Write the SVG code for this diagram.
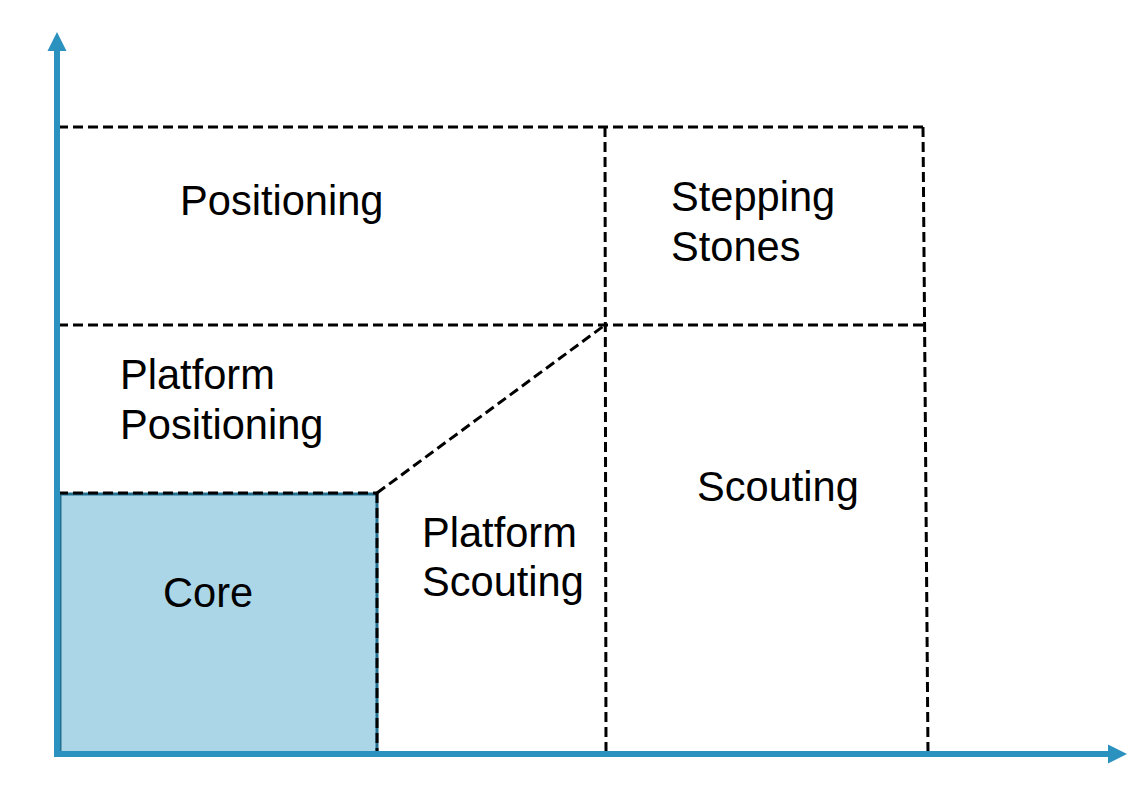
<svg xmlns="http://www.w3.org/2000/svg" width="1138" height="796" viewBox="0 0 1138 796">
<style>
.lbl{font-family:"Liberation Sans",Arial,sans-serif;font-size:41.6px;fill:#000}
.dash{stroke:#000;stroke-width:3;stroke-dasharray:10 5;fill:none}
.axis{stroke:#2b91bf;stroke-width:6;fill:none}
</style>
<rect width="1138" height="796" fill="#fff"/>
<g id="core">
<rect x="60" y="494" width="317" height="260" fill="#abd6e8" stroke="#226f90" stroke-width="3"/>
<text class="lbl" x="163" y="607">Core</text>
</g>
<g id="connectors">
<line class="dash" x1="58" y1="127" x2="923" y2="127"/>
<line class="dash" x1="58" y1="325" x2="925" y2="325"/>
<line class="dash" x1="58" y1="493" x2="377" y2="493"/>
<line class="dash" x1="377" y1="493" x2="377" y2="754"/>
<line class="dash" x1="377" y1="493" x2="605" y2="325"/>
<line class="dash" x1="605" y1="127" x2="606" y2="754"/>
<line class="dash" x1="923" y1="127" x2="928" y2="754"/>
</g>
<g id="axes">
<line class="axis" x1="57" y1="50" x2="57" y2="757"/>
<polygon points="57,32 47.5,51 66.5,51" fill="#2b91bf"/>
<line class="axis" x1="54" y1="754" x2="1110" y2="754"/>
<polygon points="1127,754 1108,744.5 1108,763.5" fill="#2b91bf"/>
</g>
<g id="positioning"><text class="lbl" x="180" y="215">Positioning</text></g>
<g id="stepping-stones"><text class="lbl" x="671" y="211">Stepping</text><text class="lbl" x="671" y="261">Stones</text></g>
<g id="platform-positioning"><text class="lbl" x="120" y="389">Platform</text><text class="lbl" x="120" y="439">Positioning</text></g>
<g id="platform-scouting"><text class="lbl" x="422" y="547">Platform</text><text class="lbl" x="422" y="596">Scouting</text></g>
<g id="scouting"><text class="lbl" x="697" y="501">Scouting</text></g>
</svg>
